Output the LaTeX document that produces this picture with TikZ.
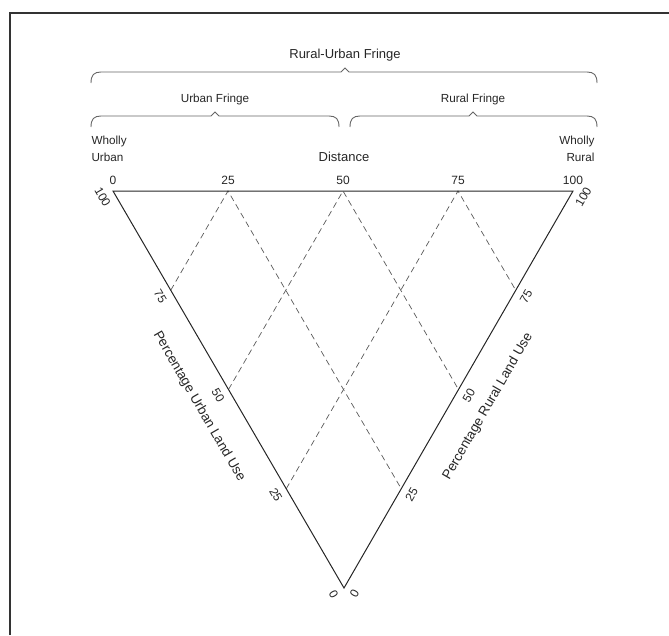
\documentclass[tikz,border=0pt]{standalone}
\usepackage{fontspec}
\setmainfont{Liberation Sans}
\usetikzlibrary{calc}

% curly bracket over a stretch of the distance axis: left, tip, right, height
\newcommand{\fringebrace}[4]{%
  \draw[fringeline] (#1,#4+11) .. controls (#1,#4+3) and (#1+3,#4) .. (#1+10,#4)
    -- (#2-4,#4) -- (#2,#4-4) -- (#2+4,#4) -- (#3-10,#4)
    .. controls (#3-3,#4) and (#3,#4+3) .. (#3,#4+11);}

\begin{document}
\begin{tikzpicture}
[x=1pt, y=-1pt,
headtext/.style={text=black!85, font=\fontsize{13}{15}\selectfont},
smalltext/.style={text=black!85, font=\fontsize{11.7}{17}\selectfont},
numtext/.style={text=black!85, font=\fontsize{12}{14}\selectfont, inner sep=1pt},
axistext/.style={text=black!85, font=\fontsize{13.5}{16}\selectfont},
fringeline/.style={black!60, line width=0.9pt},
edge/.style={black!85, line width=1pt, line join=miter},
gridline/.style={black!65, line width=0.7pt, dash pattern=on 6pt off 4pt},]
\useasboundingbox (0,0) rectangle (669,635);

% frame, only its top and left sides are on the page
\draw[line width=1.6pt, black!80] (10,635) -- (10,13) -- (669,13);

\coordinate (urban) at (113,191);
\coordinate (rural) at (573,191);
\coordinate (apex) at (344,588);

% dashed lines from the distance ticks
\foreach \d in {25,50,75}
  \draw[gridline] ($(apex)!{1-\d/100}!(urban)$) -- ($(urban)!{\d/100}!(rural)$)
    -- ($(apex)!{\d/100}!(rural)$);

\draw[edge] (urban) -- (rural) -- (apex) -- cycle;

% numbers on the three sides
\foreach \d in {0,25,50,75,100} {
  \node[numtext] (top-\d) at ($(urban)!{\d/100}!(rural) + (0,-11)$) {\d};
  \node[numtext, rotate=-60] (left-\d) at ($(apex)!{\d/100}!(urban) + (-10.4,6)$) {\d};
  \node[numtext, rotate=60] (right-\d) at ($(apex)!{\d/100}!(rural) + (10.4,6)$) {\d};
}

\node[axistext, rotate=-60] (urbanuse) at ($(apex)!0.5!(urban) + (-29.4,17)$) {Percentage Urban Land Use};
\node[axistext, rotate=60] (ruraluse) at ($(apex)!0.5!(rural) + (29.4,17)$) {Percentage Rural Land Use};

\node[headtext] (distance) at (344,157) {Distance};
\node[smalltext, align=left, anchor=west] (whollyurban) at (88,148.5) {Wholly\\Urban};
\node[smalltext, align=right, anchor=east] (whollyrural) at (598,148.5) {Wholly\\Rural};

% fringe brackets
\fringebrace{91}{345}{597}{72}
\fringebrace{91}{215}{339}{116}
\fringebrace{350}{473}{597}{116}

\node[headtext] (rurban) at (345,55) {Rural-Urban Fringe};
\node[smalltext] (urbanfringe) at (215,99) {Urban Fringe};
\node[smalltext] (ruralfringe) at (473,99) {Rural Fringe};

\end{tikzpicture}
\end{document}
